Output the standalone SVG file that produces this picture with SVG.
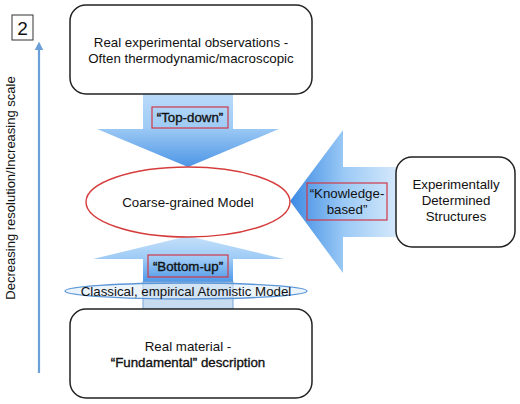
<svg xmlns="http://www.w3.org/2000/svg" width="520" height="404" viewBox="0 0 520 404">
<defs>
<linearGradient id="gDown" x1="0" y1="0" x2="0" y2="1">
<stop offset="0" stop-color="#b9dbf9"/><stop offset="0.45" stop-color="#9fcbf5"/><stop offset="1" stop-color="#4d95e6"/>
</linearGradient>
<linearGradient id="gUp" x1="0" y1="0" x2="0" y2="1">
<stop offset="0" stop-color="#c6e1fa"/><stop offset="0.5" stop-color="#9ccaf5"/><stop offset="1" stop-color="#4e98e8"/>
</linearGradient>
<linearGradient id="gLeft" x1="0" y1="0" x2="1" y2="0">
<stop offset="0" stop-color="#3c8ae4"/><stop offset="0.5" stop-color="#9ccaf5"/><stop offset="1" stop-color="#d8eafc"/>
</linearGradient>
<marker id="ah" viewBox="0 0 10 10" refX="5" refY="5" markerWidth="4" markerHeight="4" orient="auto">
<path d="M0,0 L10,5 L0,10 z" fill="#6a9fd8"/>
</marker>
<style>
.t{font-family:"Liberation Sans",Arial,sans-serif;font-size:13.3px;fill:#111;text-anchor:middle}
.sb{stroke:#111;stroke-width:0.35}
.box{fill:#fff;stroke:#222;stroke-width:1.5}
.lab{fill:none;stroke:#d03a4a;stroke-width:1.2}
</style>
</defs>
<rect width="520" height="404" fill="#fff"/>

<g id="connectors">
<line x1="39" y1="373" x2="39" y2="46" stroke="#6a9fd8" stroke-width="2.2" marker-end="url(#ah)"/>
<path id="topdown" d="M143,94 H233 V129 H279 L188,167 L97,129 H143 Z" fill="url(#gDown)"/>
<path id="bottomup" d="M188,236 L284,259 H233 V282 H143 V259 H93 Z" fill="url(#gUp)"/>
<path id="knowledge" d="M290,201 L343,130 V167 H400 V237 H343 V273 Z" fill="url(#gLeft)"/>
</g>

<g id="scale">
<rect x="12" y="15" width="21" height="25" fill="#fff" stroke="#333" stroke-width="1"/>
<text x="22.5" y="35" class="t" style="font-size:19px">2</text>
<text class="t" transform="translate(15,188) rotate(-90)" style="font-size:13px">Decreasing resolution/Increasing scale</text>
</g>

<g id="top-box">
<rect class="box" x="70" y="5" width="242" height="89" rx="16"/>
<text class="t" x="191" y="47">Real experimental observations -</text>
<text class="t" x="191" y="63">Often thermodynamic/macroscopic</text>
</g>

<g id="topdown-label">
<rect class="lab" x="152" y="107" width="76" height="21"/>
<text class="t sb" x="190" y="122">“Top-down”</text>
</g>

<g id="cg-model">
<ellipse cx="188" cy="202" rx="102" ry="35" fill="#fff" stroke="#d63c3c" stroke-width="1.4"/>
<text class="t" x="188" y="207">Coarse-grained Model</text>
</g>

<g id="knowledge-label">
<rect class="lab" x="307" y="183" width="80" height="37"/>
<text class="t" x="347" y="198">“Knowledge-</text>
<text class="t" x="347" y="214">based”</text>
</g>

<g id="exp-box">
<rect class="box" x="396" y="157" width="119" height="90" rx="16"/>
<text class="t" x="456" y="189">Experimentally</text>
<text class="t" x="456" y="205">Determined</text>
<text class="t" x="456" y="221">Structures</text>
</g>

<g id="bottomup-label">
<rect class="lab" x="148" y="255" width="80" height="22"/>
<text class="t sb" x="188" y="271">“Bottom-up”</text>
</g>

<g id="atomistic">
<rect x="143" y="282" width="90" height="27" fill="#c8dcf0" stroke="#7aa6d8" stroke-width="1"/>
<ellipse cx="186" cy="291" rx="121" ry="8" fill="#dbe9f8" fill-opacity="0.55" stroke="#5d97d8" stroke-width="1.4"/>
<text class="t" x="186" y="296">Classical, empirical Atomistic Model</text>
</g>

<g id="bottom-box">
<rect class="box" x="70" y="309" width="242" height="89" rx="16"/>
<text class="t" x="188" y="351">Real material -</text>
<text class="t sb" x="188" y="367">“Fundamental” description</text>
</g>
</svg>
